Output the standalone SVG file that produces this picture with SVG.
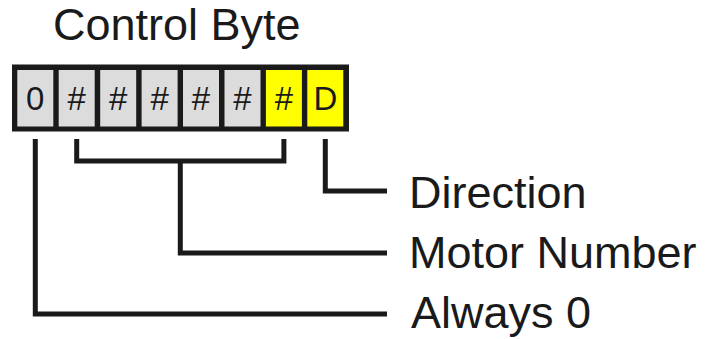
<svg xmlns="http://www.w3.org/2000/svg" width="705" height="339" viewBox="0 0 705 339">
<style>
.t{font-family:"Liberation Sans",Arial,sans-serif;fill:#1a1a1a}
.lbl{font-size:45px}
.cell{stroke:none}
.g{fill:#dcdcdc}
.y{fill:#ffff00}
.ct{font-size:33px;text-anchor:middle}
.ln{fill:none;stroke:#1a1a1a;stroke-width:5;stroke-linejoin:miter;stroke-linecap:butt}
</style>
<rect width="705" height="339" fill="#ffffff"/>
<g id="title"><text class="t lbl" x="53" y="39.5">Control Byte</text></g>
<g id="byte">
<rect x="12" y="64.5" width="337" height="67" fill="#1a1a1a"/>
<rect class="cell g" x="17.3" y="70" width="36" height="56.5"/>
<rect class="cell g" x="58.7" y="70" width="36" height="56.5"/>
<rect class="cell g" x="100.2" y="70" width="36" height="56.5"/>
<rect class="cell g" x="141.6" y="70" width="36" height="56.5"/>
<rect class="cell g" x="183" y="70" width="36" height="56.5"/>
<rect class="cell g" x="224.5" y="70" width="36" height="56.5"/>
<rect class="cell y" x="265.9" y="70" width="36" height="56.5"/>
<rect class="cell y" x="307.3" y="70" width="36" height="56.5"/>
<text class="t ct" x="35.3" y="109.5">0</text>
<text class="t ct" x="76.7" y="109.5">#</text>
<text class="t ct" x="118.2" y="109.5">#</text>
<text class="t ct" x="159.6" y="109.5">#</text>
<text class="t ct" x="201" y="109.5">#</text>
<text class="t ct" x="242.5" y="109.5">#</text>
<text class="t ct" x="283.9" y="109.5">#</text>
<text class="t ct" x="325.3" y="109.5">D</text>
</g>
<g id="connectors">
<polyline class="ln" points="325.3,139 325.3,191 387,191"/>
<polyline class="ln" points="76.7,139 76.7,161 283.9,161 283.9,139"/>
<polyline class="ln" points="180.3,161 180.3,253 387,253"/>
<polyline class="ln" points="35.3,139 35.3,314 387,314"/>
</g>
<g id="direction"><text class="t lbl" x="409" y="207.5">Direction</text></g>
<g id="motor"><text class="t lbl" x="409" y="268">Motor Number</text></g>
<g id="always"><text class="t lbl" x="411" y="328">Always 0</text></g>
</svg>
